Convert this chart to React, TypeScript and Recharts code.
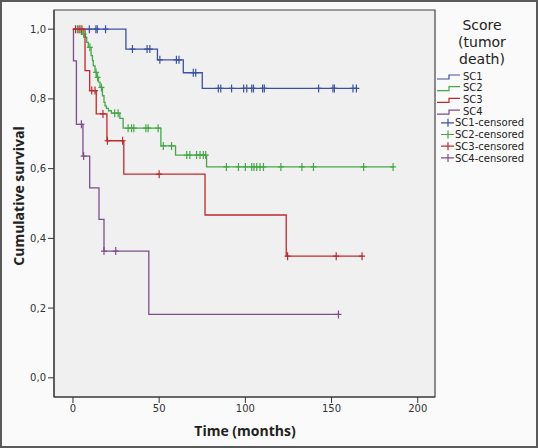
import { ComposedChart, Line, Scatter, XAxis, YAxis, CartesianGrid, ReferenceArea } from "recharts";

const xTicks = [0, 50, 100, 150, 200];
const yTicks = [0, 0.2, 0.4, 0.6, 0.8, 1.0];

// Kaplan-Meier step points (t = months, s = cumulative survival)
const sc1Steps = [
  { t: 0, s: 1 }, { t: 30.7, s: 0.943 }, { t: 49, s: 0.912 }, { t: 64, s: 0.875 },
  { t: 75, s: 0.83 }, { t: 165, s: 0.83 },
];
const sc2Steps = [
  { t: 0, s: 1 }, { t: 5, s: 0.986 }, { t: 7, s: 0.977 }, { t: 8, s: 0.962 },
  { t: 8.9, s: 0.948 }, { t: 10.5, s: 0.924 }, { t: 11.3, s: 0.91 }, { t: 11.8, s: 0.895 },
  { t: 12.8, s: 0.876 }, { t: 13.8, s: 0.862 }, { t: 14.8, s: 0.848 }, { t: 15.7, s: 0.833 },
  { t: 17.1, s: 0.809 }, { t: 18, s: 0.79 }, { t: 18.6, s: 0.78 }, { t: 19.4, s: 0.773 },
  { t: 20.6, s: 0.766 }, { t: 22.3, s: 0.759 }, { t: 27.2, s: 0.744 }, { t: 29.1, s: 0.716 },
  { t: 51, s: 0.665 }, { t: 59.5, s: 0.639 }, { t: 77.5, s: 0.605 }, { t: 186, s: 0.605 },
];
const sc3Steps = [
  { t: 0, s: 1 }, { t: 7, s: 0.881 }, { t: 9.7, s: 0.824 }, { t: 13.5, s: 0.757 },
  { t: 19.7, s: 0.68 }, { t: 29.5, s: 0.584 }, { t: 76.6, s: 0.467 }, { t: 123.7, s: 0.349 },
  { t: 168, s: 0.349 },
];
const sc4Steps = [
  { t: 0, s: 1 }, { t: 0.3, s: 0.909 }, { t: 2, s: 0.727 }, { t: 5.8, s: 0.636 },
  { t: 9.7, s: 0.545 }, { t: 15.1, s: 0.4545 }, { t: 18, s: 0.3636 }, { t: 44, s: 0.1818 },
  { t: 154, s: 0.1818 },
];

// censored observations
const sc1Censored = [
  { t: 9.5, s: 1 }, { t: 13.3, s: 1 }, { t: 14.1, s: 1 }, { t: 18.9, s: 1 },
  { t: 34.5, s: 0.943 }, { t: 43, s: 0.943 }, { t: 44.6, s: 0.943 },
  { t: 50.4, s: 0.912 }, { t: 60, s: 0.912 }, { t: 61.5, s: 0.912 },
  { t: 69.8, s: 0.875 }, { t: 71.2, s: 0.875 },
  { t: 84.3, s: 0.83 }, { t: 85.7, s: 0.83 }, { t: 92, s: 0.83 }, { t: 99, s: 0.83 },
  { t: 100.8, s: 0.83 }, { t: 103.7, s: 0.83 }, { t: 104.7, s: 0.83 }, { t: 110, s: 0.83 },
  { t: 111, s: 0.83 }, { t: 142.5, s: 0.83 }, { t: 150.8, s: 0.83 }, { t: 151.6, s: 0.83 },
  { t: 162.4, s: 0.83 }, { t: 164.4, s: 0.83 },
];
const sc2Censored = [
  { t: 2.6, s: 1 }, { t: 4.2, s: 1 }, { t: 6.2, s: 0.986 }, { t: 9.8, s: 0.948 },
  { t: 13.4, s: 0.876 }, { t: 14.3, s: 0.862 }, { t: 16.5, s: 0.833 },
  { t: 24.2, s: 0.759 }, { t: 26.2, s: 0.759 },
  { t: 32, s: 0.716 }, { t: 34, s: 0.716 }, { t: 35.3, s: 0.716 }, { t: 42.3, s: 0.716 },
  { t: 43.6, s: 0.716 }, { t: 49.4, s: 0.716 },
  { t: 52.4, s: 0.665 }, { t: 57.2, s: 0.665 },
  { t: 66, s: 0.639 }, { t: 67.8, s: 0.639 }, { t: 71.7, s: 0.639 }, { t: 73.7, s: 0.639 },
  { t: 75.6, s: 0.639 }, { t: 77, s: 0.639 },
  { t: 89, s: 0.605 }, { t: 96, s: 0.605 }, { t: 100, s: 0.605 }, { t: 103.7, s: 0.605 },
  { t: 105, s: 0.605 }, { t: 106.6, s: 0.605 }, { t: 108.5, s: 0.605 }, { t: 110.5, s: 0.605 },
  { t: 120.6, s: 0.605 }, { t: 132.8, s: 0.605 }, { t: 139.5, s: 0.605 }, { t: 168.6, s: 0.605 },
  { t: 185.7, s: 0.605 },
];
const sc3Censored = [
  { t: 1.5, s: 1 }, { t: 3.5, s: 1 }, { t: 5.2, s: 1 },
  { t: 10.9, s: 0.824 }, { t: 12.8, s: 0.824 }, { t: 17.4, s: 0.757 },
  { t: 20, s: 0.68 }, { t: 28.8, s: 0.68 }, { t: 50, s: 0.584 },
  { t: 124.5, s: 0.349 }, { t: 152.7, s: 0.349 }, { t: 167.7, s: 0.349 },
];
const sc4Censored = [
  { t: 4.9, s: 0.727 }, { t: 6.2, s: 0.636 }, { t: 18, s: 0.3636 }, { t: 24.8, s: 0.3636 },
  { t: 154, s: 0.1818 },
];

const seriesNames = ["SC1", "SC2", "SC3", "SC4"];
const colors = ["#3b52a3", "#45a848", "#bf2a2f", "#7c4f8c"];
const stepData = [sc1Steps, sc2Steps, sc3Steps, sc4Steps];
const censoredData = [sc1Censored, sc2Censored, sc3Censored, sc4Censored];

const font = "'Open Sans', 'DejaVu Sans', sans-serif";
const legendFont = "'DejaVu Sans', sans-serif";

const fmt = (v: number) => v.toFixed(1).replace(".", ",");

const cross = (color: string) => (p: any) => (
  <path
    d={`M${p.cx},${p.cy - 4}V${p.cy + 4}M${p.cx - 3},${p.cy}H${p.cx + 3}`}
    stroke={color}
    strokeWidth={1.2}
    fill="none"
  />
);

function LegendBox() {
  return (
    <svg width={110} height={170} style={{ position: "absolute", left: 428, top: 0 }}>
      <g fontFamily={legendFont} fill="#222" textAnchor="middle" fontSize={14}>
        <text x={54} y={30}>Score</text>
        <text x={54} y={47}>(tumor</text>
        <text x={54} y={64}>death)</text>
      </g>
      {seriesNames.map((n, i) => {
        const y = 76 + i * 11.7;
        return (
          <g key={n}>
            <path d={`M9,${y + 3}H21V${y - 1}H32`} stroke={colors[i]} strokeWidth={1.2} fill="none" />
            <text x={35} y={y + 3.6} fontFamily={legendFont} fontSize={10} fill="#222">{n}</text>
          </g>
        );
      })}
      {seriesNames.map((n, i) => {
        const y = 76 + (i + 4) * 11.7;
        return (
          <g key={n + "c"}>
            <path d={`M13,${y}H26M20,${y - 4}V${y + 4}`} stroke={colors[i]} strokeWidth={1.2} fill="none" />
            <text x={27} y={y + 3.6} fontFamily={legendFont} fontSize={10} fill="#222">{n}-censored</text>
          </g>
        );
      })}
    </svg>
  );
}

export default function App() {
  return (
    <div style={{ position: "absolute", left: 0, top: 0, width: 538, height: 448, background: "#fafafa" }}>
      <ComposedChart width={538} height={448} margin={{ top: 10, right: 103, bottom: 0, left: 0 }}>
        <CartesianGrid fill="#f0f0f0" horizontal={false} vertical={false} />
        <XAxis
          type="number"
          dataKey="t"
          domain={[-11, 210]}
          ticks={xTicks}
          height={51}
          tickSize={6}
          stroke="#333"
          tick={{ fontSize: 10, fill: "#333", fontFamily: "'DejaVu Sans', sans-serif" }}
        />
        <YAxis
          type="number"
          domain={[-0.055, 1.055]}
          ticks={yTicks}
          width={54}
          tickSize={6}
          stroke="#333"
          tickFormatter={fmt}
          tick={{ fontSize: 10, fill: "#333", fontFamily: "'DejaVu Sans', sans-serif" }}
        />
        <ReferenceArea x1={-11} x2={210} y1={-0.055} y2={1.055} fill="none" stroke="#444" strokeWidth={1.2} ifOverflow="visible" />
        {stepData.map((d, i) => (
          <Line
            key={seriesNames[i]}
            data={d}
            dataKey="s"
            type="stepAfter"
            stroke={colors[i]}
            strokeWidth={1.3}
            dot={false}
            activeDot={false}
            isAnimationActive={false}
          />
        ))}
        {censoredData.map((d, i) => (
          <Scatter
            key={seriesNames[i] + "c"}
            data={d}
            dataKey="s"
            shape={cross(colors[i])}
            isAnimationActive={false}
          />
        ))}
      </ComposedChart>
      <div
        style={{
          position: "absolute", left: 17.5, top: 196, transform: "translate(-50%, -50%) rotate(-90deg)",
          fontFamily: font, fontWeight: 700, fontSize: 14, color: "#222", whiteSpace: "nowrap",
        }}
      >
        Cumulative survival
      </div>
      <div
        style={{
          position: "absolute", left: 245, top: 430, transform: "translate(-50%, -50%)",
          fontFamily: font, fontWeight: 700, fontSize: 14, color: "#222", whiteSpace: "nowrap",
        }}
      >
        Time (months)
      </div>
      <LegendBox />
      <div
        style={{
          position: "absolute", left: 0, top: 0, width: 538, height: 448, boxSizing: "border-box",
          border: "2px solid #5a5a5a", pointerEvents: "none",
        }}
      />
    </div>
  );
}
